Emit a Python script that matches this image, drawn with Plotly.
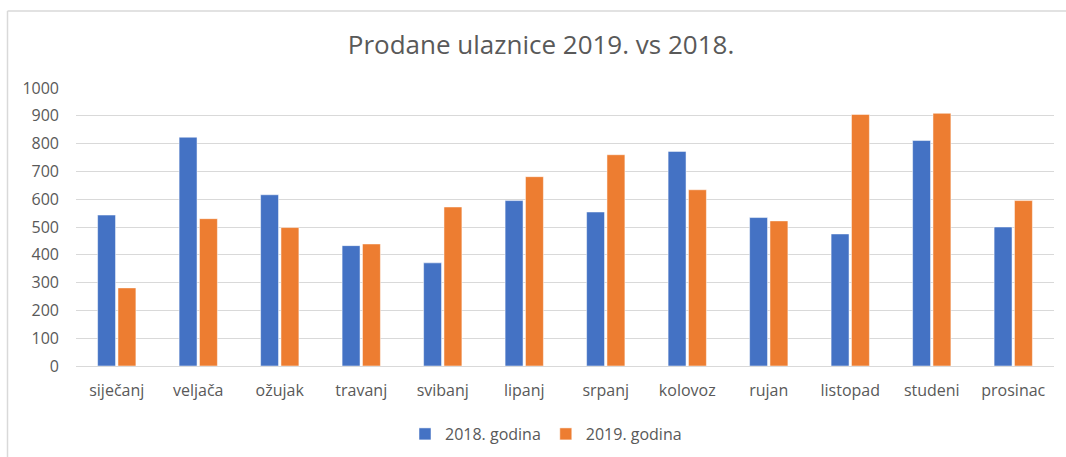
import plotly.graph_objects as go

months = ["siječanj", "veljača", "ožujak", "travanj", "svibanj", "lipanj",
          "srpanj", "kolovoz", "rujan", "listopad", "studeni", "prosinac"]
sales_2018 = [543, 823, 616, 433, 371, 595, 554, 772, 534, 475, 811, 500]
sales_2019 = [281, 530, 498, 439, 572, 681, 760, 634, 522, 905, 909, 595]
y_ticks = [0, 100, 200, 300, 400, 500, 600, 700, 800, 900, 1000]

FONT = "Open Sans, sans-serif"
GREY = "#595959"

fig = go.Figure()
fig.add_trace(go.Bar(x=months, y=sales_2018, name="2018. godina",
                     marker=dict(color="#4472C4", line=dict(color="#ffffff", width=0.5))))
fig.add_trace(go.Bar(x=months, y=sales_2019, name="2019. godina",
                     marker=dict(color="#ED7D31", line=dict(color="#ffffff", width=0.5))))

W, H = 1066, 457
# target plot area in page pixels: x 76..1054, y 88..366
L, T = 76, 88
R = W - 1054
B = H - 366
pw, ph = W - L - R, H - T - B


def px_x(px):
    return (px - L) / pw


def px_y(py):
    return 1 - (py - T) / ph


# outer chart border starting at (7, 11)
fig.add_shape(type="line", xref="paper", yref="paper", x0=px_x(7.5), x1=px_x(7.5),
              y0=px_y(11), y1=-2, line=dict(color="#d9d9d9", width=1.5))
fig.add_shape(type="line", xref="paper", yref="paper", x0=px_x(7.5), x1=2,
              y0=px_y(11), y1=px_y(11), line=dict(color="#d9d9d9", width=1.5))

fig.update_layout(
    width=W, height=H,
    margin=dict(l=L, r=R, t=T, b=B, autoexpand=False),
    paper_bgcolor="white", plot_bgcolor="white",
    barmode="group", bargap=0.5, bargroupgap=0.12,
    title=dict(text="Prodane ulaznice 2019. vs 2018.", x=541 / W, xanchor="center",
               y=1 - 45 / H, yanchor="middle",
               font=dict(family=FONT, size=26, color=GREY)),
    font=dict(family=FONT, size=16, color=GREY),
    legend=dict(orientation="h", xref="container", yref="container",
                x=546 / W, xanchor="center", y=1 - 434 / H,
                yanchor="middle", font=dict(family=FONT, size=16, color=GREY),
                itemwidth=30, traceorder="normal"),
    showlegend=True,
)
fig.update_xaxes(showgrid=False, showline=False, ticks="", ticklabelstandoff=13,
                 tickfont=dict(family=FONT, size=16, color=GREY), automargin=False)
fig.update_yaxes(range=[0, 1000], tickvals=y_ticks, showgrid=True, gridcolor="#d9d9d9",
                 gridwidth=1.3, zeroline=True, zerolinecolor="#d9d9d9", zerolinewidth=1.3,
                 showline=False, ticks="", ticklabelstandoff=16, automargin=False,
                 tickfont=dict(family=FONT, size=16, color=GREY))

fig.write_html("out.html", config={"displayModeBar": False},
               post_script="document.body.style.margin='0';document.body.style.overflow='hidden';")
